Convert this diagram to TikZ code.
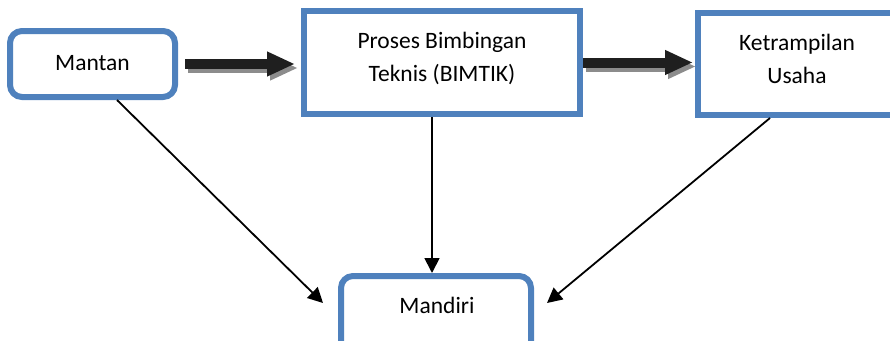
\documentclass[tikz,border=0pt]{standalone}
\usepackage{fontspec}
\setmainfont{Carlito}
\usetikzlibrary{arrows.meta,calc}
\definecolor{boxblue}{HTML}{4F81BD}
\begin{document}
\begin{tikzpicture}[x=1pt,y=-1pt,
  box/.style={draw=boxblue, line width=6pt, fill=white, inner sep=0pt},
  rbox/.style={box, rounded corners=12pt},
  lbl/.style={inner sep=0pt, anchor=base, font=\fontsize{23.5}{33}\selectfont},
  bigarrow/.style={line width=10pt, -{Triangle[width=23pt,length=28pt]}},
  thinarrow/.style={line width=1.8pt, -{Triangle[width=15pt,length=15pt]}}
]
\useasboundingbox (0,0) rectangle (890,340);
\clip (0,0) rectangle (890,340);
% boxes
\node[rbox, minimum width=165pt, minimum height=66pt] (mantan) at (92.5,64) {};
\node[box, minimum width=276pt, minimum height=103pt] (bimtik) at (442,62.5) {};
\node[box, minimum width=207pt, minimum height=102pt] (ket) at (801.5,64) {};
\node[rbox, minimum width=190pt, minimum height=80pt] (mandiri) at (436,316) {};
% texts
\node[lbl] (mantanT) at (92.5,70) {Mantan};
\node[lbl] (bimtikT) at (442,48) {\begin{tabular}[t]{@{}c@{}}Proses Bimbingan\\Teknis (BIMTIK)\end{tabular}};
\node[lbl] (ketT) at (797,50) {\begin{tabular}[t]{@{}c@{}}Ketrampilan\\Usaha\end{tabular}};
\node[lbl] (mandiriT) at (437,313) {Mandiri};
% thick arrows (shadow first)
\draw[bigarrow, black!45, shorten <=7pt, shorten >=6pt, transform canvas={xshift=3pt,yshift=-4pt}]
  (mantan.east) -- (mantan.east -| bimtik.west);
\draw[bigarrow, black!88, shorten <=7pt, shorten >=6pt]
  (mantan.east) -- (mantan.east -| bimtik.west);
\draw[bigarrow, black!45, shorten >=2pt, transform canvas={xshift=3pt,yshift=-4pt}]
  (bimtik.east) -- (bimtik.east -| ket.west);
\draw[bigarrow, black!88, shorten >=2pt]
  (bimtik.east) -- (bimtik.east -| ket.west);
% thin arrows
\draw[thinarrow] ($(mantan.south)+(24.5,0)$) -- ($(mandiri.north west)+(-15,30)$);
\draw[thinarrow] ($(bimtik.south)+(-10,0)$) -- ($(mandiri.north)+(-4,0)$);
\draw[thinarrow] ($(ket.south west)+(75,0)$) -- ($(mandiri.north east)+(13,30)$);
\end{tikzpicture}
\end{document}
